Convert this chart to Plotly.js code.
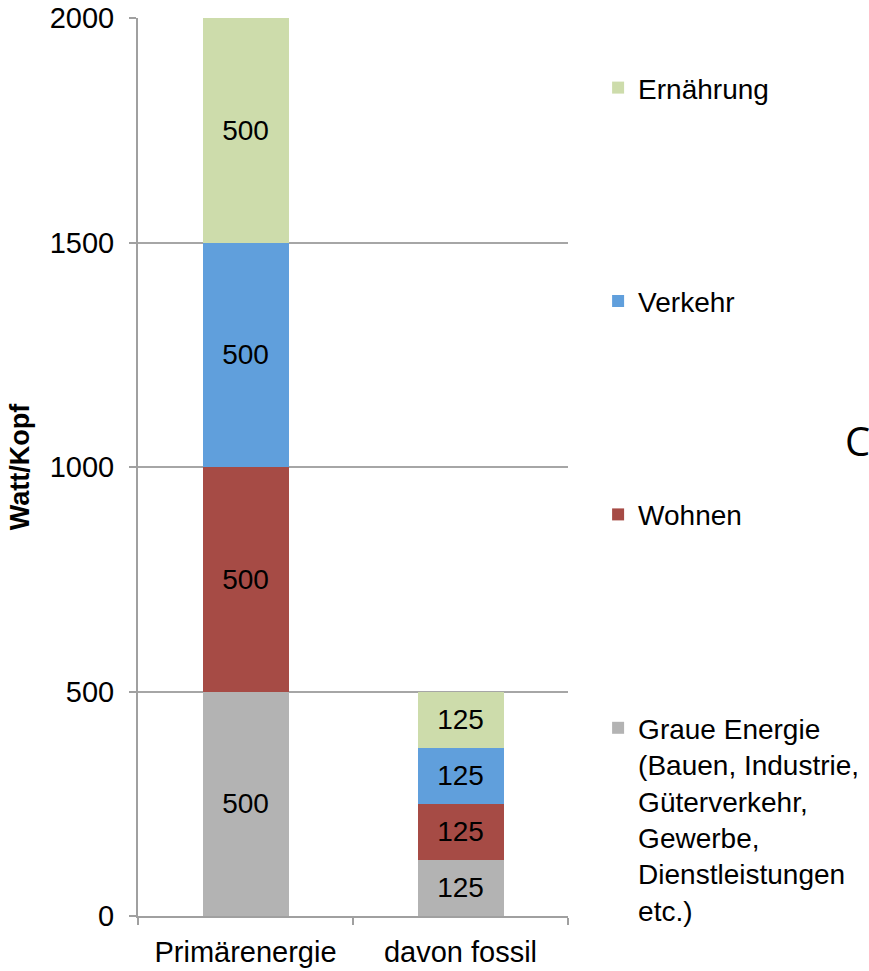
<!DOCTYPE html>
<html>
<head>
<meta charset="utf-8">
<script src="https://cdn.plot.ly/plotly-3.0.1.min.js"></script>
<style>
  html, body { margin: 0; padding: 0; background: #ffffff; }
  #chart { width: 869px; height: 971px; }
</style>
</head>
<body>
<div id="chart"></div>
<script>
// Energy use per head, stacked by sector
const categories = ['Primärenergie', 'davon fossil'];
const seriesNames = [
  'Graue Energie<br>(Bauen, Industrie,<br>Güterverkehr,<br>Gewerbe,<br>Dienstleistungen<br>etc.)',
  'Wohnen',
  'Verkehr',
  'Ernährung'
];
const graueEnergie = [500, 125];
const wohnen = [500, 125];
const verkehr = [500, 125];
const ernaehrung = [500, 125];
const yTicks = [0, 500, 1000, 1500, 2000];

const seriesValues = [graueEnergie, wohnen, verkehr, ernaehrung];
const seriesColors = ['#b3b3b3', '#a64b45', '#609fdc', '#cddcab'];

const FONT = 'Liberation Sans, Arial, sans-serif';

// legend lists the top segment first
const traces = seriesValues.map((vals, i) => ({
  type: 'bar',
  name: seriesNames[i],
  legendgroup: 'g' + i,
  legendrank: 1000 - i,
  x: categories,
  y: vals,
  text: vals.map(String),
  textposition: 'inside',
  insidetextanchor: 'middle',
  constraintext: 'none',
  textfont: { family: FONT, size: 28, color: '#000000' },
  marker: { color: seriesColors[i], line: { width: 0 } },
  hoverinfo: 'skip'
}));

const layout = {
  width: 869,
  height: 971,
  margin: { l: 138, r: 301, t: 18, b: 55, pad: 0, autoexpand: false },
  paper_bgcolor: '#ffffff',
  plot_bgcolor: '#ffffff',
  barmode: 'stack',
  bargap: 0.6,
  font: { family: FONT, size: 28, color: '#000000' },
  showlegend: true,
  legend: {
    x: 1.07,
    xanchor: 'left',
    y: 0.95,
    yanchor: 'top',
    traceorder: 'grouped',
    tracegroupgap: 174,
    valign: 'top',
    font: { family: FONT, size: 28, color: '#000000' },
    bgcolor: 'rgba(0,0,0,0)',
    itemclick: false,
    itemdoubleclick: false
  },
  xaxis: {
    type: 'category',
    showgrid: false,
    showline: true,
    linecolor: '#a0a0a0',
    linewidth: 2,
    ticks: 'outside',
    tickson: 'boundaries',
    ticklen: 7,
    tickwidth: 2,
    tickcolor: '#a0a0a0',
    ticklabelstandoff: 9,
    tickfont: { family: FONT, size: 29, color: '#000000' },
    automargin: false,
    fixedrange: true
  },
  yaxis: {
    range: [0, 2000],
    tickvals: yTicks,
    ticktext: yTicks.map(String),
    showgrid: true,
    gridcolor: '#a6a6a6',
    gridwidth: 2,
    zeroline: false,
    showline: true,
    linecolor: '#a0a0a0',
    linewidth: 2,
    ticks: 'outside',
    ticklen: 7,
    tickwidth: 2,
    tickcolor: '#a0a0a0',
    ticklabelstandoff: 9,
    tickfont: { family: FONT, size: 29, color: '#000000' },
    title: {
      text: '<b>Watt/Kopf</b>',
      font: { family: FONT, size: 27, color: '#000000' },
      standoff: 12
    },
    automargin: false,
    fixedrange: true
  },
  annotations: [
    {
      xref: 'paper', yref: 'paper',
      x: 1.642, y: 0.529,
      xanchor: 'left', yanchor: 'middle',
      text: 'C',
      showarrow: false,
      borderpad: 0,
      font: { family: 'Open Sans, sans-serif', size: 40, color: '#000000' }
    }
  ]
};

Plotly.newPlot('chart', traces, layout, { displayModeBar: false, staticPlot: true });
</script>
</body>
</html>
